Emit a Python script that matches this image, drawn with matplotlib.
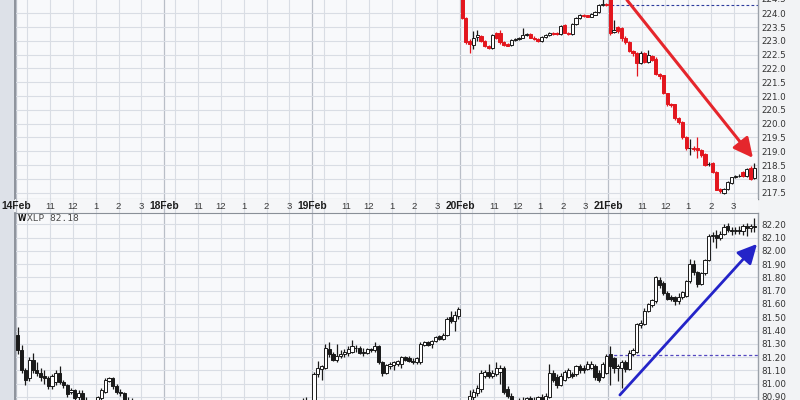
import matplotlib
matplotlib.use("Agg")
import matplotlib.pyplot as plt
from matplotlib.patches import FancyArrowPatch, Rectangle

# ---------------- data ----------------
days = ["14Feb", "18Feb", "19Feb", "20Feb", "21Feb"]
hour_labels = ["11", "12", "1", "2", "3"]
hour_offsets = [1.5, 2.5, 3.5, 4.5, 5.5]      # hours after 9:30 open
extra_grid = [0.5]                              # 10:00 line

# IWM 10-minute bars (open, high, low, close)
iwm_feb20 = [
    (224.70, 224.80, 223.78, 223.82), (223.82, 223.86, 222.90, 222.96), (223.00, 223.05, 222.56, 222.88),
    (222.86, 223.36, 222.70, 223.12), (223.15, 223.38, 223.00, 223.20), (223.18, 223.22, 222.95, 222.98),
    (222.98, 223.02, 222.76, 222.80), (222.82, 222.85, 222.70, 222.75), (222.75, 223.25, 222.72, 223.20),
    (223.28, 223.32, 223.08, 223.12), (223.30, 223.40, 222.90, 222.95), (222.95, 222.98, 222.82, 222.86),
    (222.88, 222.92, 222.80, 222.83), (222.85, 223.05, 222.83, 223.02), (223.02, 223.10, 222.98, 223.06),
    (223.06, 223.14, 223.03, 223.10), (223.12, 223.45, 223.10, 223.22), (223.22, 223.30, 223.18, 223.25),
    (223.25, 223.28, 223.10, 223.12), (223.12, 223.16, 223.02, 223.05), (223.08, 223.10, 222.96, 223.00),
    (223.00, 223.18, 222.95, 223.15), (223.15, 223.24, 223.12, 223.20), (223.20, 223.33, 223.18, 223.28),
    (223.28, 223.32, 223.22, 223.26), (223.30, 223.33, 223.22, 223.25), (223.25, 223.58, 223.22, 223.53),
    (223.56, 223.60, 223.28, 223.30), (223.30, 223.33, 223.20, 223.24), (223.24, 223.64, 223.22, 223.60),
    (223.60, 223.85, 223.58, 223.82), (223.82, 223.96, 223.80, 223.93), (223.95, 223.98, 223.86, 223.90),
    (223.92, 223.95, 223.85, 223.88), (223.88, 224.00, 223.86, 223.98), (223.95, 224.08, 223.92, 224.05),
    (224.05, 224.35, 224.02, 224.30), (224.30, 224.60, 224.25, 224.32), (224.32, 224.38, 224.26, 224.29),
]
iwm_feb21 = [
    (224.60, 224.75, 223.22, 223.30), (223.32, 223.75, 223.28, 223.40), (223.50, 223.55, 223.30, 223.35),
    (223.45, 223.50, 223.00, 223.10), (223.12, 223.18, 222.90, 222.95), (222.95, 222.98, 222.58, 222.62),
    (222.62, 222.68, 222.45, 222.55), (222.55, 222.60, 221.73, 222.20), (222.20, 222.62, 222.15, 222.55),
    (222.55, 222.60, 222.20, 222.25), (222.25, 222.67, 222.20, 222.50), (222.45, 222.50, 222.28, 222.32),
    (222.35, 222.40, 221.78, 221.80), (221.80, 221.85, 221.60, 221.72), (221.75, 221.78, 221.08, 221.10),
    (221.10, 221.12, 220.65, 220.70), (220.70, 220.74, 220.62, 220.68), (220.70, 220.72, 220.15, 220.20),
    (220.20, 220.24, 220.00, 220.05), (220.06, 220.10, 219.45, 219.50), (219.50, 219.55, 219.05, 219.10),
    (219.10, 219.45, 218.85, 219.12), (219.12, 219.20, 219.02, 219.08), (219.10, 219.50, 218.75, 219.05),
    (219.05, 219.08, 218.80, 218.85), (218.90, 218.95, 218.48, 218.50), (218.52, 218.60, 218.48, 218.55),
    (218.57, 218.60, 218.22, 218.25), (218.25, 218.28, 217.58, 217.60), (217.62, 217.66, 217.50, 217.55),
    (217.50, 217.66, 217.45, 217.62), (217.65, 217.92, 217.60, 217.88), (217.85, 218.08, 217.82, 218.05),
    (218.06, 218.14, 218.02, 218.10), (218.10, 218.16, 218.06, 218.12), (218.25, 218.30, 218.06, 218.10),
    (218.10, 218.38, 218.05, 218.35), (218.40, 218.45, 217.96, 218.00), (218.03, 218.57, 218.00, 218.39),
]
iwm_prev_close = 224.29

# XLP 10-minute bars (open, high, low, close)
xlp_feb14 = [
    (81.37, 81.43, 81.22, 81.25), (81.25, 81.29, 81.08, 81.10), (81.10, 81.12, 80.99, 81.03),
    (81.04, 81.20, 81.02, 81.18), (81.18, 81.23, 81.08, 81.10), (81.10, 81.16, 81.06, 81.08),
    (81.08, 81.12, 81.02, 81.05), (81.06, 81.10, 81.00, 81.04), (81.04, 81.06, 80.96, 80.98),
    (80.98, 81.07, 80.96, 81.06), (81.01, 81.10, 80.99, 81.08), (81.08, 81.13, 81.00, 81.01),
    (81.01, 81.03, 80.97, 80.99), (80.99, 81.00, 80.90, 80.92), (80.94, 80.97, 80.92, 80.95),
    (80.95, 80.96, 80.87, 80.89), (80.90, 80.95, 80.86, 80.93), (80.93, 80.95, 80.85, 80.87),
    (80.87, 80.90, 80.80, 80.82), (80.82, 80.86, 80.78, 80.80), (80.80, 80.85, 80.77, 80.84),
    (80.84, 80.91, 80.82, 80.90), (80.89, 80.97, 80.88, 80.95), (80.94, 81.04, 80.93, 81.03),
    (81.02, 81.05, 81.01, 81.04), (81.04, 81.05, 80.96, 80.98), (80.98, 81.00, 80.92, 80.94),
    (80.94, 80.96, 80.91, 80.93), (80.93, 80.94, 80.86, 80.88), (80.88, 80.90, 80.86, 80.88),
    (80.88, 80.89, 80.80, 80.82), (80.82, 80.85, 80.76, 80.78), (80.78, 80.82, 80.72, 80.74),
    (80.74, 80.79, 80.70, 80.76), (80.76, 80.80, 80.71, 80.73), (80.73, 80.77, 80.68, 80.70),
    (80.70, 80.76, 80.67, 80.74), (80.74, 80.78, 80.69, 80.71), (80.71, 80.75, 80.66, 80.72),
]
xlp_feb18 = [
    (80.72, 80.75, 80.66, 80.70), (80.70, 80.72, 80.63, 80.66), (80.66, 80.68, 80.60, 80.62),
    (80.62, 80.68, 80.61, 80.65), (80.65, 80.66, 80.58, 80.60), (80.60, 80.62, 80.56, 80.58),
    (80.58, 80.64, 80.57, 80.62), (80.62, 80.68, 80.61, 80.66), (80.66, 80.67, 80.62, 80.64),
    (80.64, 80.65, 80.58, 80.60), (80.60, 80.61, 80.55, 80.57), (80.57, 80.58, 80.53, 80.55),
    (80.55, 80.60, 80.54, 80.58), (80.58, 80.64, 80.57, 80.62), (80.62, 80.63, 80.58, 80.60),
    (80.60, 80.65, 80.59, 80.63), (80.63, 80.68, 80.62, 80.66), (80.66, 80.67, 80.62, 80.64),
    (80.64, 80.65, 80.59, 80.61), (80.61, 80.65, 80.60, 80.63), (80.63, 80.69, 80.62, 80.67),
    (80.67, 80.72, 80.66, 80.70), (80.70, 80.71, 80.66, 80.68), (80.68, 80.69, 80.63, 80.65),
    (80.65, 80.69, 80.64, 80.67), (80.67, 80.72, 80.66, 80.70), (80.70, 80.75, 80.69, 80.73),
    (80.73, 80.74, 80.69, 80.71), (80.71, 80.72, 80.66, 80.68), (80.68, 80.72, 80.67, 80.70),
    (80.70, 80.76, 80.69, 80.74), (80.74, 80.79, 80.73, 80.77), (80.77, 80.78, 80.73, 80.75),
    (80.75, 80.80, 80.74, 80.78), (80.78, 80.83, 80.77, 80.81), (80.81, 80.85, 80.80, 80.83),
    (80.83, 80.89, 80.82, 80.87), (80.87, 80.90, 80.84, 80.86), (80.86, 80.87, 80.81, 80.84),
]
xlp_feb19 = [
    (80.84, 81.09, 80.80, 81.07), (81.07, 81.17, 81.05, 81.12), (81.11, 81.14, 81.03, 81.13),
    (81.12, 81.30, 81.11, 81.27), (81.26, 81.31, 81.20, 81.22), (81.22, 81.24, 81.17, 81.18),
    (81.18, 81.30, 81.16, 81.21), (81.21, 81.25, 81.19, 81.22), (81.22, 81.26, 81.20, 81.24),
    (81.23, 81.28, 81.21, 81.26), (81.24, 81.33, 81.23, 81.28), (81.27, 81.29, 81.24, 81.27),
    (81.27, 81.28, 81.22, 81.23), (81.24, 81.27, 81.21, 81.23), (81.23, 81.27, 81.22, 81.26),
    (81.26, 81.27, 81.24, 81.25), (81.25, 81.31, 81.24, 81.28), (81.28, 81.29, 81.15, 81.16),
    (81.16, 81.17, 81.06, 81.08), (81.08, 81.15, 81.07, 81.14), (81.13, 81.16, 81.11, 81.15),
    (81.14, 81.17, 81.10, 81.16), (81.15, 81.18, 81.13, 81.17), (81.15, 81.21, 81.12, 81.20),
    (81.20, 81.21, 81.17, 81.18), (81.19, 81.21, 81.16, 81.17), (81.17, 81.19, 81.15, 81.16),
    (81.16, 81.20, 81.15, 81.19), (81.16, 81.31, 81.15, 81.30), (81.29, 81.32, 81.28, 81.31),
    (81.31, 81.32, 81.28, 81.29), (81.30, 81.33, 81.27, 81.32), (81.32, 81.36, 81.31, 81.35),
    (81.36, 81.37, 81.33, 81.34), (81.34, 81.38, 81.33, 81.37), (81.37, 81.50, 81.36, 81.49),
    (81.50, 81.55, 81.46, 81.47), (81.47, 81.55, 81.40, 81.52), (81.51, 81.58, 81.49, 81.56),
]
xlp_feb20 = [
    (80.85, 80.87, 80.76, 80.80), (80.80, 80.84, 80.77, 80.83), (80.84, 80.95, 80.83, 80.91),
    (80.90, 80.96, 80.88, 80.94), (80.93, 80.99, 80.91, 80.97), (80.96, 81.10, 80.94, 81.08),
    (81.06, 81.10, 81.04, 81.09), (81.09, 81.15, 81.04, 81.06), (81.06, 81.10, 81.04, 81.08),
    (81.07, 81.16, 81.06, 81.12), (81.09, 81.14, 81.00, 81.12), (81.12, 81.13, 80.92, 80.94),
    (80.96, 80.98, 80.89, 80.91), (80.91, 80.93, 80.84, 80.86), (80.86, 80.88, 80.81, 80.83),
    (80.83, 80.89, 80.82, 80.88), (80.88, 80.90, 80.85, 80.87), (80.87, 80.90, 80.85, 80.89),
    (80.89, 80.91, 80.86, 80.88), (80.88, 80.90, 80.85, 80.87), (80.87, 80.91, 80.86, 80.90),
    (80.90, 80.92, 80.86, 80.88), (80.88, 80.93, 80.87, 80.91), (80.90, 81.15, 80.89, 81.08),
    (81.08, 81.10, 81.01, 81.03), (81.05, 81.07, 80.97, 80.99), (80.99, 81.08, 80.98, 81.06),
    (81.03, 81.10, 81.02, 81.09), (81.05, 81.12, 81.04, 81.10), (81.07, 81.09, 81.04, 81.06),
    (81.07, 81.14, 81.06, 81.13), (81.13, 81.15, 81.08, 81.10), (81.12, 81.14, 81.08, 81.10),
    (81.11, 81.17, 81.10, 81.15), (81.12, 81.17, 81.11, 81.15), (81.13, 81.15, 81.03, 81.05),
    (81.08, 81.10, 81.01, 81.03), (81.05, 81.16, 81.04, 81.15), (81.08, 81.22, 81.07, 81.21),
]
xlp_feb21 = [
    (81.22, 81.28, 80.99, 81.13), (81.19, 81.20, 81.08, 81.12), (81.12, 81.15, 81.02, 81.13),
    (81.12, 81.18, 80.97, 81.16), (81.16, 81.18, 81.09, 81.11), (81.11, 81.25, 81.10, 81.23),
    (81.22, 81.27, 81.21, 81.25), (81.24, 81.46, 81.23, 81.45), (81.44, 81.48, 81.42, 81.46),
    (81.45, 81.57, 81.44, 81.55), (81.55, 81.61, 81.54, 81.60), (81.59, 81.64, 81.58, 81.63),
    (81.62, 81.81, 81.61, 81.80), (81.78, 81.80, 81.72, 81.74), (81.76, 81.77, 81.67, 81.68),
    (81.68, 81.70, 81.63, 81.64), (81.65, 81.67, 81.62, 81.64), (81.65, 81.66, 81.59, 81.62),
    (81.62, 81.68, 81.60, 81.65), (81.65, 81.70, 81.64, 81.69), (81.66, 81.78, 81.65, 81.77),
    (81.77, 81.94, 81.76, 81.90), (81.90, 81.93, 81.82, 81.84), (81.84, 81.85, 81.73, 81.75),
    (81.75, 81.84, 81.74, 81.83), (81.83, 81.94, 81.82, 81.93), (81.93, 82.13, 81.92, 82.11),
    (82.11, 82.14, 82.07, 82.12), (82.12, 82.16, 82.02, 82.10), (82.10, 82.15, 82.08, 82.13),
    (82.13, 82.20, 82.12, 82.18), (82.19, 82.21, 82.14, 82.16), (82.16, 82.18, 82.12, 82.15),
    (82.15, 82.18, 82.13, 82.16), (82.16, 82.19, 82.13, 82.15), (82.15, 82.20, 82.12, 82.19),
    (82.19, 82.21, 82.11, 82.17), (82.17, 82.20, 82.14, 82.19), (82.19, 82.25, 82.14, 82.18),
]
xlp_prev_close = 81.216
xlp_label = "XLP 82.18"

iwm_ticks = [217.5, 218.0, 218.5, 219.0, 219.5, 220.0, 220.5, 221.0, 221.5, 222.0, 222.5, 223.0, 223.5, 224.0, 224.5]
xlp_ticks = [80.9, 81.0, 81.1, 81.2, 81.3, 81.4, 81.5, 81.6, 81.7, 81.8, 81.9, 82.0, 82.1, 82.2]

# trend arrows (x in trading hours since 14Feb open, y in price)
red_arrow = ((26.82, 224.48), (32.35, 218.76))
blue_arrow = ((26.51, 80.915), (32.53, 82.052))

# ---------------- style ----------------
DAY_LEN = 6.5
BAR_STEP = 1.0 / 6.0
W, H = 800, 400
BG = "#f8f9fb"
GRID = "#d9dde4"
DAYGRID = "#b9bec7"
RED = "#e3161e"
DARK = "#1a1a1a"
XMIN, XMAX = -0.044, 32.573
NARROW = ["Liberation Sans Narrow", "DejaVu Sans"]

fig = plt.figure(figsize=(8, 4), dpi=100)
fig.patch.set_facecolor("#f2f3f5")


def px_axes(l, t, r, b):
    return fig.add_axes([l / W, 1 - b / H, (r - l) / W, (b - t) / H])


ax_top = px_axes(15, 0, 758, 199)
ax_strip = px_axes(15, 199, 758, 213)
ax_bot = px_axes(15, 213, 758, 400)

# left band (behind everything)
fig.patches.append(Rectangle((0, 0), 13.5 / W, 1, transform=fig.transFigure,
                             facecolor="#dde1e8", edgecolor="none", zorder=-5))


def vgrid(ax):
    for d in range(len(days)):
        ax.axvline(d * DAY_LEN, color=DAYGRID, lw=0.9, zorder=1)
        for h in extra_grid + hour_offsets:
            ax.axvline(d * DAY_LEN + h, color=GRID, lw=0.8, zorder=1)


def draw_candles(ax, day_idx, bars, up_face, up_edge, dn_face, dn_edge):
    for i, (o, h, l, c) in enumerate(bars):
        x = day_idx * DAY_LEN + (i + 0.5) * BAR_STEP
        down = c < o
        col = dn_edge if down else up_edge
        ax.vlines(x, l, h, color=col, lw=0.9, zorder=3)
        lo, hi = min(o, c), max(o, c)
        ax.bar(x, max(hi - lo, 1e-4), bottom=lo, width=0.14,
               facecolor=dn_face if down else up_face, edgecolor=col,
               linewidth=0.7, zorder=4)


for ax in (ax_top, ax_strip, ax_bot):
    ax.set_facecolor(BG)
    ax.set_xlim(XMIN, XMAX)
    ax.set_xticks([])
    vgrid(ax)

# ---- top panel (IWM)
ax_top.set_ylim(217.27, 224.48)
ax_top.set_yticks(iwm_ticks[:-1])
ax_top.yaxis.tick_right()
ax_top.set_yticklabels([f"{t:.1f}" for t in iwm_ticks[:-1]])
ax_top.grid(axis="y", color=GRID, lw=0.8, zorder=1)
draw_candles(ax_top, 3, iwm_feb20, "white", DARK, RED, RED)
draw_candles(ax_top, 4, iwm_feb21, "white", DARK, RED, RED)
ax_top.hlines(iwm_prev_close, 4 * DAY_LEN + 0.1, XMAX, colors="#2c3a9c", linestyles=(0, (2.5, 2)), lw=0.8, zorder=2)
ax_top.text(1.004, iwm_ticks[-1], f"{iwm_ticks[-1]:.1f}", transform=ax_top.get_yaxis_transform(),
            ha="left", va="center", fontsize=6.3, color="#333333", family=NARROW, clip_on=False)

# ---- bottom panel (XLP)
ax_bot.set_ylim(80.877, 82.285)
ax_bot.set_yticks(xlp_ticks)
ax_bot.yaxis.tick_right()
ax_bot.set_yticklabels([f"{t:.2f}" for t in xlp_ticks])
ax_bot.grid(axis="y", color=GRID, lw=0.8, zorder=1)
for d, bars in enumerate([xlp_feb14, xlp_feb18, xlp_feb19, xlp_feb20, xlp_feb21]):
    draw_candles(ax_bot, d, bars, "white", DARK, DARK, DARK)
ax_bot.hlines(xlp_prev_close, 4 * DAY_LEN, XMAX, colors="#5448c0", linestyles=(0, (2.5, 2)), lw=0.9, zorder=2)

for ax in (ax_top, ax_bot):
    ax.tick_params(axis="y", length=0, pad=2.5, labelsize=6.3, labelcolor="#333333")
    for lab in ax.get_yticklabels():
        lab.set_family(NARROW)

# spines
for ax in (ax_top, ax_strip, ax_bot):
    for s in ax.spines.values():
        s.set_visible(False)
for ax in (ax_top, ax_bot):
    ax.spines["left"].set_visible(True)
    ax.spines["left"].set_color("#7c828c")
    ax.spines["left"].set_linewidth(1.2)
    ax.spines["right"].set_visible(True)
    ax.spines["right"].set_color("#9ca2aa")
    ax.spines["right"].set_linewidth(1.0)
ax_top.spines["bottom"].set_visible(True)
ax_top.spines["bottom"].set_color("#8a9098")
ax_top.spines["bottom"].set_linestyle((0, (1, 1)))
ax_bot.spines["top"].set_visible(True)
ax_bot.spines["top"].set_color("#8a9098")
ax_bot.spines["top"].set_linestyle((0, (1, 1)))
ax_strip.set_yticks([])
ax_strip.set_ylim(0, 1)
ax_strip.set_facecolor("#f5f6f8")

# date strip labels
for d, name in enumerate(days):
    ax_strip.text(d * DAY_LEN, 0.47, name, ha="center", va="center", fontsize=7.4,
                  fontweight="bold", color="#1e1e1e", family="Liberation Sans", clip_on=False, zorder=5)
    for h, lab in zip(hour_offsets, hour_labels):
        ax_strip.text(d * DAY_LEN + h, 0.47, lab, ha="center", va="center", fontsize=6.8,
                      color="#3a3a3a", family="Liberation Sans", zorder=5)

# XLP label
fig.text(18 / W, 1 - 218.5 / H, "W", fontsize=5.5, fontweight="bold", color="#111111", va="center", ha="left")
fig.text(27 / W, 1 - 218.5 / H, xlp_label, fontsize=6.8, color="#4a4a4a", va="center", ha="left",
         family="DejaVu Sans Mono")

# arrows
ar = FancyArrowPatch(red_arrow[0], red_arrow[1], arrowstyle="-|>,head_length=0.9,head_width=0.45",
                     mutation_scale=13, color="#e5262c", lw=2.2, shrinkA=0, shrinkB=0, zorder=6)
ax_top.add_patch(ar)
ab = FancyArrowPatch(blue_arrow[0], blue_arrow[1], arrowstyle="-|>,head_length=0.9,head_width=0.45",
                     mutation_scale=13, color="#2424c8", lw=2.0, shrinkA=0, shrinkB=0, zorder=6)
ax_bot.add_patch(ab)

fig.savefig("out.png", dpi=100, facecolor=fig.get_facecolor())
